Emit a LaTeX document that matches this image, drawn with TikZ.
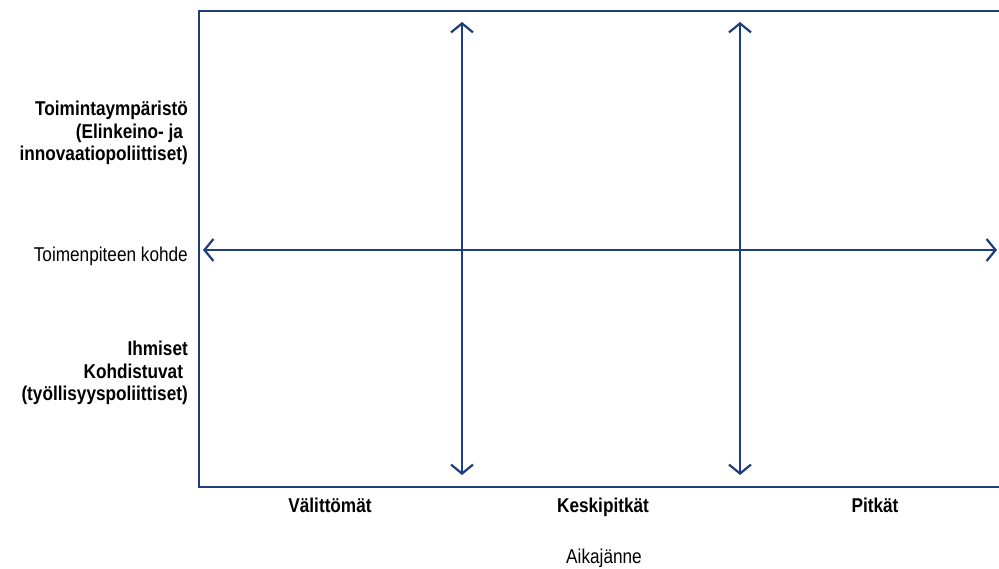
\documentclass[tikz,border=0pt]{standalone}
\usepackage{fontspec}
\setmainfont{Liberation Sans}[FakeStretch=0.86]
\usetikzlibrary{arrows.meta}
\definecolor{axisblue}{RGB}{31,61,122}
\begin{document}
\begin{tikzpicture}[x=1pt,y=-1pt,
  frame/.style={draw=axisblue,line width=2.2pt},
  axis/.style={draw=axisblue,line width=2.2pt,{Straight Barb[length=9pt,width=22pt]}-{Straight Barb[length=9pt,width=22pt]}},
  lbl/.style={inner sep=0pt,font=\fontsize{20}{22.5}\selectfont},
  side/.style={lbl,align=right,anchor=east},
  bold/.style={font=\fontsize{20}{22.5}\selectfont\bfseries}]
\useasboundingbox (0,0) rectangle (999,569);
% open frame: left side, top and bottom
\draw[frame] (999,11) -- (199,11) -- (199,487) -- (999,487);
% axes
\coordinate (hl) at (203,250);
\coordinate (hr) at (997,250);
\coordinate (v1t) at (462,22);
\coordinate (v1b) at (462,475);
\coordinate (v2t) at (740,22);
\coordinate (v2b) at (740,475);
\draw[axis] (hl) -- (hr);
\draw[axis] (v1t) -- (v1b);
\draw[axis] (v2t) -- (v2b);
% labels on the left
\node[side,bold] (top) at (188,133) {Toimintaympäristö\\(Elinkeino- ja\phantom{i}\\innovaatiopoliittiset)};
\node[side] (mid) at (188,256) {Toimenpiteen kohde};
\node[side,bold] (low) at (188,373) {Ihmiset\\Kohdistuvat\phantom{i}\\(työllisyyspoliittiset)};
% labels below
\node[lbl,bold,anchor=base] (t1) at (330,512) {Välittömät};
\node[lbl,bold,anchor=base] (t2) at (603,512) {Keskipitkät};
\node[lbl,bold,anchor=base] (t3) at (875,512) {Pitkät};
\node[lbl,anchor=base] (t4) at (604,563) {Aikajänne};
\end{tikzpicture}
\end{document}
